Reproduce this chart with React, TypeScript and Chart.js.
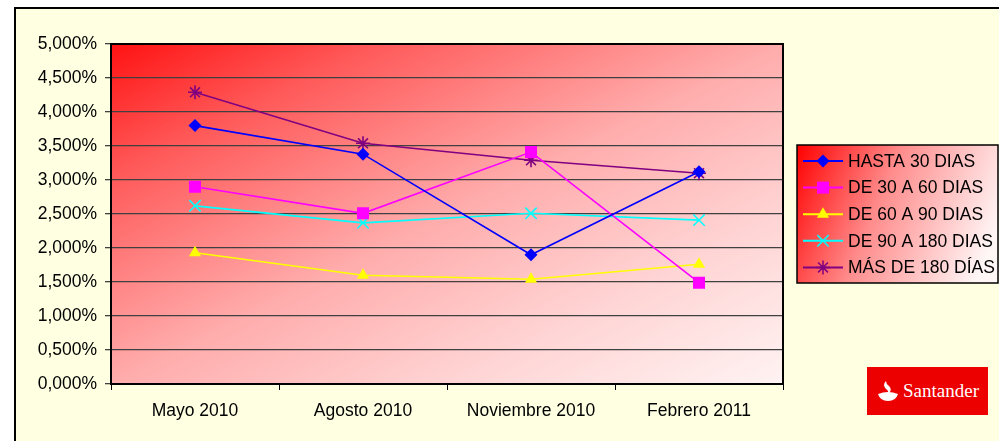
import React, { useEffect, useRef } from "react";
import { Chart, registerables } from "chart.js";

Chart.register(...registerables);

const categories = ["Mayo 2010", "Agosto 2010", "Noviembre 2010", "Febrero 2011"];
const hasta30 = [3.8, 3.38, 1.9, 3.12];
const de30a60 = [2.9, 2.51, 3.41, 1.49];
const de60a90 = [1.93, 1.6, 1.54, 1.76];
const de90a180 = [2.62, 2.37, 2.51, 2.41];
const mas180 = [4.29, 3.54, 3.29, 3.1];
const seriesNames = ["HASTA 30 DIAS", "DE 30 A 60 DIAS", "DE 60 A 90 DIAS", "DE 90 A 180 DIAS", "MÁS DE 180 DÍAS"];
const seriesColors = ["#0000FF", "#FF00FF", "#FFFF00", "#00FFFF", "#800080"];
const seriesStyles = ["rectRot", "rect", "triangle", "crossRot", "star"];
const seriesRadius = [6.5, 8.5, 7, 8, 7];

const FONT = "'Liberation Sans', Arial, sans-serif";
const FSIZE = 17.5;

function drawMarker(ctx: CanvasRenderingContext2D, style: string, x: number, y: number, r: number, color: string) {
  ctx.save();
  ctx.fillStyle = color;
  ctx.strokeStyle = color;
  ctx.lineWidth = 1.5;
  ctx.beginPath();
  if (style === "rectRot") {
    ctx.moveTo(x, y - r);
    ctx.lineTo(x + r, y);
    ctx.lineTo(x, y + r);
    ctx.lineTo(x - r, y);
    ctx.closePath();
    ctx.fill();
  } else if (style === "rect") {
    const s = r * Math.SQRT1_2;
    ctx.rect(x - s, y - s, 2 * s, 2 * s);
    ctx.fill();
  } else if (style === "triangle") {
    ctx.moveTo(x, y - r);
    ctx.lineTo(x + r * 0.87, y + r * 0.5);
    ctx.lineTo(x - r * 0.87, y + r * 0.5);
    ctx.closePath();
    ctx.fill();
  } else if (style === "crossRot") {
    const s = r * Math.SQRT1_2;
    ctx.moveTo(x - s, y - s);
    ctx.lineTo(x + s, y + s);
    ctx.moveTo(x - s, y + s);
    ctx.lineTo(x + s, y - s);
    ctx.stroke();
  } else {
    const s = r * Math.SQRT1_2;
    ctx.moveTo(x - s, y - s);
    ctx.lineTo(x + s, y + s);
    ctx.moveTo(x - s, y + s);
    ctx.lineTo(x + s, y - s);
    ctx.moveTo(x, y - r);
    ctx.lineTo(x, y + r);
    ctx.moveTo(x - r, y);
    ctx.lineTo(x + r, y);
    ctx.stroke();
  }
  ctx.restore();
}

const areaGradientPlugin = {
  id: "areaGradient",
  beforeDraw(chart: any) {
    const { ctx, chartArea } = chart;
    const { left, top, right, bottom } = chartArea;
    const W = right - left;
    const H = bottom - top;
    const gx = 1 / (2 * W);
    const gy = 1 / (2 * H);
    const n = gx * gx + gy * gy;
    const g = ctx.createLinearGradient(left, top, left + gx / n, top + gy / n);
    g.addColorStop(0, "rgb(255,18,18)");
    g.addColorStop(0.2, "rgb(255,90,90)");
    g.addColorStop(0.5, "rgb(255,172,172)");
    g.addColorStop(0.75, "rgb(255,212,212)");
    g.addColorStop(1, "rgb(255,243,243)");
    ctx.save();
    ctx.fillStyle = g;
    ctx.fillRect(left, top, W, H);
    ctx.restore();
  },
  beforeDatasetsDraw(chart: any) {
    const { ctx, chartArea } = chart;
    const { left, top, right, bottom } = chartArea;
    ctx.save();
    ctx.strokeStyle = "#000";
    ctx.lineWidth = 2;
    ctx.beginPath();
    ctx.moveTo(left, top);
    ctx.lineTo(right, top);
    ctx.lineTo(right, bottom);
    ctx.stroke();
    ctx.restore();
  },
};

const customLegendPlugin = {
  id: "customLegend",
  afterDraw(chart: any) {
    const ctx: CanvasRenderingContext2D = chart.ctx;
    const bx = 797, by = 145, bw = 201, bh = 138;
    ctx.save();
    const g = ctx.createLinearGradient(bx, by, bx + bw, by + bh * 0.6);
    g.addColorStop(0, "#FF0000");
    g.addColorStop(0.45, "#FF8C8C");
    g.addColorStop(1, "#FFF6F6");
    ctx.fillStyle = g;
    ctx.fillRect(bx, by, bw, bh);
    ctx.strokeStyle = "#000";
    ctx.lineWidth = 1.5;
    ctx.strokeRect(bx, by, bw, bh);
    ctx.font = `${FSIZE}px ${FONT}`;
    ctx.textBaseline = "middle";
    ctx.textAlign = "left";
    for (let i = 0; i < seriesNames.length; i++) {
      const y = 161 + i * 26.6;
      ctx.strokeStyle = seriesColors[i];
      ctx.lineWidth = 2;
      ctx.beginPath();
      ctx.moveTo(803, y);
      ctx.lineTo(843, y);
      ctx.stroke();
      drawMarker(ctx, seriesStyles[i], 823, y, seriesRadius[i], seriesColors[i]);
      ctx.fillStyle = "#000";
      ctx.fillText(seriesNames[i], 848, y + 1);
    }
    ctx.restore();
  },
};

export default function App() {
  const canvasRef = useRef<HTMLCanvasElement | null>(null);

  useEffect(() => {
    const canvas = canvasRef.current;
    if (!canvas) return;
    const all = [hasta30, de30a60, de60a90, de90a180, mas180];
    const datasets = all.map((data, i) => ({
      label: seriesNames[i],
      data,
      borderColor: seriesColors[i],
      backgroundColor: seriesColors[i],
      borderWidth: 1.6,
      pointStyle: seriesStyles[i] as any,
      pointRadius: seriesRadius[i],
      pointBorderWidth: i >= 3 ? 1.6 : 0,
      pointBorderColor: seriesColors[i],
      pointBackgroundColor: seriesColors[i],
      tension: 0,
    }));
    const chart = new Chart(canvas, {
      type: "line",
      data: { labels: categories, datasets: datasets as any },
      plugins: [areaGradientPlugin, customLegendPlugin],
      options: {
        animation: false,
        responsive: false,
        maintainAspectRatio: false,
        devicePixelRatio: 1,
        layout: { padding: { left: 0, top: 44, right: 216, bottom: 0 } },
        plugins: {
          legend: { display: false },
          tooltip: { enabled: false },
        },
        scales: {
          x: {
            offset: true,
            grid: {
              offset: true,
              drawOnChartArea: false,
              drawTicks: true,
              tickLength: 6,
              color: "#000",
            },
            border: { color: "#000", width: 2 },
            ticks: {
              color: "#000",
              font: { family: FONT, size: FSIZE },
              padding: 11,
              maxRotation: 0,
            },
            afterFit(scale: any) {
              scale.height = 57;
            },
          },
          y: {
            min: 0,
            max: 5,
            grid: {
              color: "#404040",
              lineWidth: 1.3,
              tickLength: 6,
              drawTicks: true,
            },
            border: { color: "#000", width: 2 },
            ticks: {
              stepSize: 0.5,
              color: "#000",
              font: { family: FONT, size: FSIZE },
              padding: 8,
              callback: (v: any) => Number(v).toFixed(3).replace(".", ",") + "%",
            },
            afterFit(scale: any) {
              scale.width = 111;
            },
          },
        },
      },
    });
    return () => chart.destroy();
  }, []);

  return (
    <div style={{ position: "fixed", left: 0, top: 0, width: 999, height: 441, background: "#fff", overflow: "hidden" }}>
      <div
        style={{
          position: "absolute",
          left: 14,
          top: 7,
          width: 1000,
          height: 450,
          background: "#FFFFE2",
          borderLeft: "2px solid #000",
          borderTop: "2px solid #000",
        }}
      />
      <canvas ref={canvasRef} width={999} height={441} style={{ position: "absolute", left: 0, top: 0, width: 999, height: 441 }} />
      <div
        style={{
          position: "absolute",
          left: 867,
          top: 367,
          width: 121,
          height: 48,
          background: "#EC0000",
          display: "flex",
          alignItems: "center",
          boxSizing: "border-box",
          paddingLeft: 9,
        }}
      >
        <svg width="24" height="24" viewBox="0 0 24 24" style={{ marginRight: 3 }}>
          <path d="M2 15 Q12 11 22 15 Q20 22 12 22 Q4 22 2 15 Z" fill="#fff" />
          <path d="M10 2 Q6 6 10 10 Q13 12 12 15 Q17 11 13 7 Q10 5 10 2 Z" fill="#fff" />
        </svg>
        <span style={{ color: "#fff", fontFamily: "'Liberation Serif', 'Times New Roman', serif", fontSize: 19 }}>Santander</span>
      </div>
    </div>
  );
}
